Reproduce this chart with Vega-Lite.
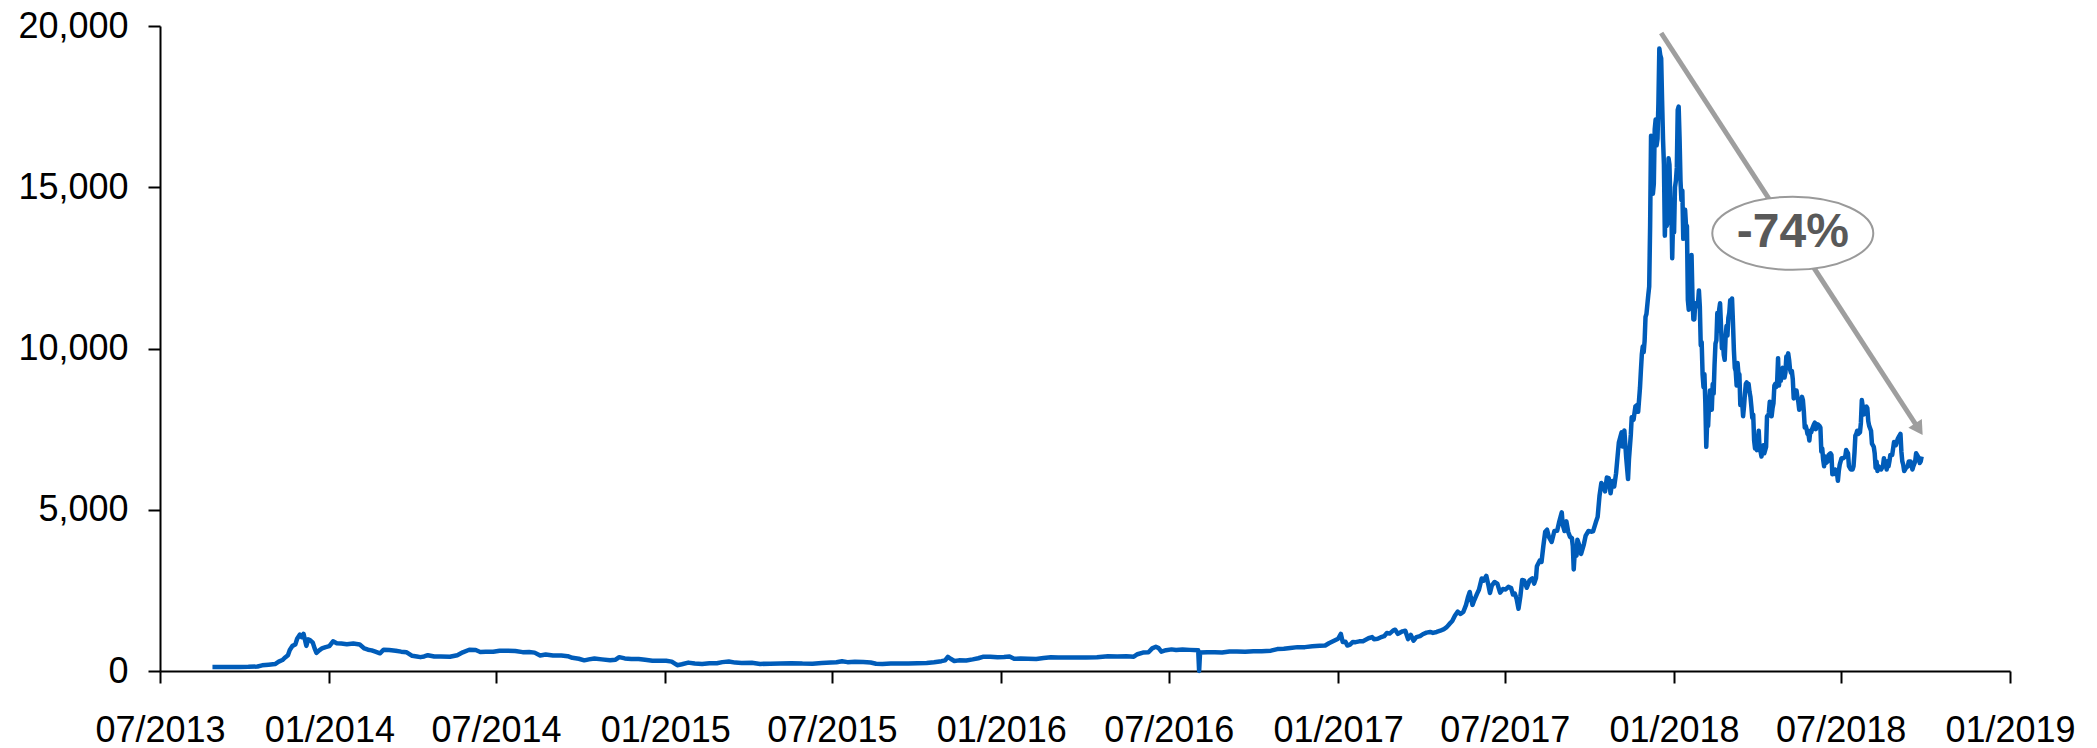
{
  "$schema": "https://vega.github.io/schema/vega-lite/v6.json",
  "width": 1850,
  "height": 645,
  "autosize": {"type": "none"},
  "padding": {"left": 160, "top": 26, "right": 87, "bottom": 77},
  "background": "white",
  "config": {
    "view": {"stroke": null},
    "font": "Liberation Sans",
    "axis": {"grid": false, "domainColor": "black", "domainWidth": 2, "tickColor": "black", "tickWidth": 2, "tickSize": 12, "labelColor": "black", "labelFontSize": 36, "labelFont": "Liberation Sans", "labelFlush": false, "labelOverlap": false, "labelBound": false}
  },
  "datasets": {
    "btc": [
      {"d":"2013-08-27","v":125},{"d":"2013-09-05","v":125},{"d":"2013-09-15","v":127},{"d":"2013-09-25","v":126},{"d":"2013-10-05","v":128},{"d":"2013-10-15","v":140},{"d":"2013-10-20","v":175},{"d":"2013-10-27","v":195},{"d":"2013-11-03","v":215},{"d":"2013-11-07","v":290},{"d":"2013-11-11","v":340},{"d":"2013-11-14","v":420},{"d":"2013-11-17","v":490},{"d":"2013-11-19","v":650},{"d":"2013-11-22","v":780},{"d":"2013-11-25","v":820},{"d":"2013-11-27","v":1000},{"d":"2013-11-30","v":1130},{"d":"2013-12-02","v":1050},{"d":"2013-12-04","v":1150},{"d":"2013-12-07","v":780},{"d":"2013-12-09","v":980},{"d":"2013-12-11","v":960},{"d":"2013-12-14","v":880},{"d":"2013-12-16","v":700},{"d":"2013-12-18","v":560},{"d":"2013-12-21","v":640},{"d":"2013-12-24","v":700},{"d":"2013-12-28","v":740},
      {"d":"2014-01-01","v":770},{"d":"2014-01-05","v":920},{"d":"2014-01-09","v":860},{"d":"2014-01-14","v":850},{"d":"2014-01-20","v":830},{"d":"2014-01-27","v":850},{"d":"2014-02-03","v":820},{"d":"2014-02-08","v":700},{"d":"2014-02-12","v":660},{"d":"2014-02-16","v":640},{"d":"2014-02-20","v":600},{"d":"2014-02-25","v":550},{"d":"2014-03-01","v":660},{"d":"2014-03-07","v":650},{"d":"2014-03-14","v":630},{"d":"2014-03-20","v":600},{"d":"2014-03-26","v":580},{"d":"2014-04-01","v":470},{"d":"2014-04-06","v":450},{"d":"2014-04-10","v":430},{"d":"2014-04-14","v":450},{"d":"2014-04-18","v":490},{"d":"2014-04-25","v":450},{"d":"2014-05-02","v":450},{"d":"2014-05-12","v":440},{"d":"2014-05-20","v":490},{"d":"2014-05-26","v":580},{"d":"2014-06-02","v":660},{"d":"2014-06-09","v":650},{"d":"2014-06-14","v":590},{"d":"2014-06-20","v":600},{"d":"2014-06-28","v":600},{"d":"2014-07-05","v":630},{"d":"2014-07-14","v":630},{"d":"2014-07-22","v":620},{"d":"2014-07-30","v":585},{"d":"2014-08-06","v":590},{"d":"2014-08-12","v":570},{"d":"2014-08-18","v":480},{"d":"2014-08-24","v":510},{"d":"2014-09-01","v":480},{"d":"2014-09-10","v":480},{"d":"2014-09-17","v":460},{"d":"2014-09-22","v":410},{"d":"2014-09-29","v":380},{"d":"2014-10-05","v":330},{"d":"2014-10-10","v":360},{"d":"2014-10-16","v":390},{"d":"2014-10-24","v":360},{"d":"2014-11-02","v":330},{"d":"2014-11-08","v":350},{"d":"2014-11-12","v":430},{"d":"2014-11-18","v":390},{"d":"2014-11-25","v":375},{"d":"2014-12-03","v":375},{"d":"2014-12-10","v":350},{"d":"2014-12-18","v":320},{"d":"2014-12-25","v":320},
      {"d":"2015-01-02","v":315},{"d":"2015-01-08","v":290},{"d":"2015-01-14","v":180},{"d":"2015-01-19","v":210},{"d":"2015-01-26","v":260},{"d":"2015-02-02","v":230},{"d":"2015-02-10","v":220},{"d":"2015-02-18","v":240},{"d":"2015-02-26","v":240},{"d":"2015-03-04","v":275},{"d":"2015-03-11","v":295},{"d":"2015-03-18","v":260},{"d":"2015-03-25","v":250},{"d":"2015-04-05","v":255},{"d":"2015-04-14","v":220},{"d":"2015-04-25","v":225},{"d":"2015-05-06","v":235},{"d":"2015-05-18","v":240},{"d":"2015-05-30","v":230},{"d":"2015-06-10","v":228},{"d":"2015-06-20","v":245},{"d":"2015-06-30","v":260},{"d":"2015-07-06","v":270},{"d":"2015-07-12","v":300},{"d":"2015-07-18","v":275},{"d":"2015-07-26","v":290},{"d":"2015-08-04","v":280},{"d":"2015-08-12","v":265},{"d":"2015-08-18","v":225},{"d":"2015-08-25","v":215},{"d":"2015-09-03","v":230},{"d":"2015-09-12","v":235},{"d":"2015-09-22","v":230},{"d":"2015-10-02","v":240},{"d":"2015-10-12","v":245},{"d":"2015-10-20","v":270},{"d":"2015-10-28","v":305},{"d":"2015-11-01","v":330},{"d":"2015-11-04","v":440},{"d":"2015-11-07","v":380},{"d":"2015-11-11","v":310},{"d":"2015-11-16","v":330},{"d":"2015-11-24","v":325},{"d":"2015-12-01","v":360},{"d":"2015-12-07","v":395},{"d":"2015-12-12","v":440},{"d":"2015-12-20","v":445},{"d":"2015-12-28","v":425},
      {"d":"2016-01-04","v":435},{"d":"2016-01-10","v":450},{"d":"2016-01-15","v":380},{"d":"2016-01-22","v":385},{"d":"2016-01-30","v":380},{"d":"2016-02-08","v":375},{"d":"2016-02-16","v":405},{"d":"2016-02-24","v":425},{"d":"2016-03-03","v":420},{"d":"2016-03-12","v":415},{"d":"2016-03-22","v":415},{"d":"2016-04-02","v":420},{"d":"2016-04-14","v":425},{"d":"2016-04-26","v":460},{"d":"2016-05-06","v":450},{"d":"2016-05-16","v":455},{"d":"2016-05-24","v":445},{"d":"2016-05-28","v":520},{"d":"2016-06-03","v":570},{"d":"2016-06-09","v":580},{"d":"2016-06-13","v":700},{"d":"2016-06-17","v":750},{"d":"2016-06-20","v":710},{"d":"2016-06-23","v":600},{"d":"2016-06-28","v":645},{"d":"2016-07-04","v":670},{"d":"2016-07-09","v":650},{"d":"2016-07-16","v":665},{"d":"2016-07-24","v":655},{"d":"2016-08-02","v":640},{"d":"2016-08-03","v":0},{"d":"2016-08-04","v":570},{"d":"2016-08-12","v":585},{"d":"2016-08-20","v":580},{"d":"2016-08-28","v":575},{"d":"2016-09-05","v":605},{"d":"2016-09-13","v":608},{"d":"2016-09-22","v":595},{"d":"2016-10-01","v":615},{"d":"2016-10-10","v":615},{"d":"2016-10-20","v":630},{"d":"2016-10-27","v":680},{"d":"2016-11-03","v":690},{"d":"2016-11-10","v":715},{"d":"2016-11-18","v":740},{"d":"2016-11-26","v":740},{"d":"2016-12-04","v":765},{"d":"2016-12-12","v":780},{"d":"2016-12-18","v":790},{"d":"2016-12-22","v":860},{"d":"2016-12-27","v":930},
      {"d":"2017-01-01","v":1000},{"d":"2017-01-04","v":1150},{"d":"2017-01-06","v":900},{"d":"2017-01-09","v":905},{"d":"2017-01-11","v":790},{"d":"2017-01-14","v":820},{"d":"2017-01-17","v":900},{"d":"2017-01-20","v":895},{"d":"2017-01-24","v":920},{"d":"2017-01-28","v":925},{"d":"2017-01-31","v":970},{"d":"2017-02-03","v":1015},{"d":"2017-02-07","v":1050},{"d":"2017-02-09","v":985},{"d":"2017-02-13","v":1000},{"d":"2017-02-16","v":1040},{"d":"2017-02-20","v":1080},{"d":"2017-02-23","v":1180},{"d":"2017-02-26","v":1160},{"d":"2017-03-02","v":1260},{"d":"2017-03-04","v":1280},{"d":"2017-03-07","v":1150},{"d":"2017-03-10","v":1200},{"d":"2017-03-12","v":1230},{"d":"2017-03-15","v":1250},{"d":"2017-03-18","v":990},{"d":"2017-03-21","v":1120},{"d":"2017-03-24","v":940},{"d":"2017-03-27","v":1050},{"d":"2017-03-31","v":1080},{"d":"2017-04-03","v":1140},{"d":"2017-04-07","v":1190},{"d":"2017-04-11","v":1210},{"d":"2017-04-14","v":1180},{"d":"2017-04-18","v":1210},{"d":"2017-04-22","v":1250},{"d":"2017-04-26","v":1300},{"d":"2017-04-29","v":1360},{"d":"2017-05-02","v":1460},{"d":"2017-05-05","v":1550},{"d":"2017-05-08","v":1720},{"d":"2017-05-11","v":1840},{"d":"2017-05-14","v":1770},{"d":"2017-05-17","v":1830},{"d":"2017-05-20","v":2050},{"d":"2017-05-22","v":2280},{"d":"2017-05-24","v":2450},{"d":"2017-05-25","v":2300},{"d":"2017-05-27","v":2050},{"d":"2017-05-29","v":2200},{"d":"2017-06-01","v":2400},{"d":"2017-06-03","v":2520},{"d":"2017-06-06","v":2870},{"d":"2017-06-08","v":2800},{"d":"2017-06-11","v":2950},{"d":"2017-06-13","v":2700},{"d":"2017-06-15","v":2420},{"d":"2017-06-17","v":2650},{"d":"2017-06-20","v":2760},{"d":"2017-06-23","v":2710},{"d":"2017-06-26","v":2430},{"d":"2017-06-29","v":2540},{"d":"2017-07-02","v":2530},{"d":"2017-07-05","v":2610},{"d":"2017-07-08","v":2570},{"d":"2017-07-10","v":2370},{"d":"2017-07-12","v":2400},{"d":"2017-07-14","v":2230},{"d":"2017-07-16","v":1930},{"d":"2017-07-18","v":2310},{"d":"2017-07-20","v":2820},{"d":"2017-07-22","v":2810},{"d":"2017-07-25","v":2580},{"d":"2017-07-28","v":2810},{"d":"2017-07-31","v":2870},{"d":"2017-08-02","v":2710},{"d":"2017-08-04","v":2880},{"d":"2017-08-05","v":3250},{"d":"2017-08-08","v":3420},{"d":"2017-08-10","v":3380},{"d":"2017-08-12","v":3880},{"d":"2017-08-14","v":4320},{"d":"2017-08-16","v":4380},{"d":"2017-08-18","v":4160},{"d":"2017-08-21","v":4000},{"d":"2017-08-24","v":4340},{"d":"2017-08-27","v":4350},{"d":"2017-08-29","v":4600},{"d":"2017-09-01","v":4920},{"d":"2017-09-02","v":4540},{"d":"2017-09-04","v":4340},{"d":"2017-09-06","v":4640},{"d":"2017-09-08","v":4310},{"d":"2017-09-10","v":4160},{"d":"2017-09-12","v":4120},{"d":"2017-09-13","v":3880},{"d":"2017-09-14","v":3150},{"d":"2017-09-15","v":3640},{"d":"2017-09-17","v":3580},{"d":"2017-09-18","v":4070},{"d":"2017-09-20","v":3900},{"d":"2017-09-22","v":3630},{"d":"2017-09-25","v":3930},{"d":"2017-09-27","v":4200},{"d":"2017-09-30","v":4340},{"d":"2017-10-03","v":4320},{"d":"2017-10-05","v":4330},{"d":"2017-10-08","v":4610},{"d":"2017-10-10","v":4780},{"d":"2017-10-12","v":5430},{"d":"2017-10-14","v":5830},{"d":"2017-10-16","v":5750},{"d":"2017-10-18","v":5570},{"d":"2017-10-20","v":6000},{"d":"2017-10-22","v":5980},{"d":"2017-10-24","v":5510},{"d":"2017-10-26","v":5890},{"d":"2017-10-28","v":5720},{"d":"2017-10-30","v":6130},{"d":"2017-11-01","v":6770},{"d":"2017-11-02","v":7080},{"d":"2017-11-05","v":7400},{"d":"2017-11-06","v":6960},{"d":"2017-11-08","v":7460},{"d":"2017-11-10","v":6620},{"d":"2017-11-12","v":5950},{"d":"2017-11-13","v":6560},{"d":"2017-11-15","v":7320},{"d":"2017-11-16","v":7870},{"d":"2017-11-18","v":7790},{"d":"2017-11-20","v":8200},{"d":"2017-11-22","v":8250},{"d":"2017-11-23","v":8040},{"d":"2017-11-25","v":8790},{"d":"2017-11-26","v":9330},{"d":"2017-11-27","v":9820},{"d":"2017-11-28","v":10060},{"d":"2017-11-29","v":9890},{"d":"2017-11-30","v":10230},{"d":"2017-12-01","v":10980},{"d":"2017-12-02","v":11070},{"d":"2017-12-04","v":11660},{"d":"2017-12-05","v":11920},{"d":"2017-12-06","v":13800},{"d":"2017-12-07","v":16600},{"d":"2017-12-08","v":16000},{"d":"2017-12-09","v":14800},{"d":"2017-12-10","v":15100},{"d":"2017-12-11","v":16800},{"d":"2017-12-12","v":17100},{"d":"2017-12-13","v":16300},{"d":"2017-12-14","v":16500},{"d":"2017-12-15","v":17600},{"d":"2017-12-16","v":19300},{"d":"2017-12-17","v":19100},{"d":"2017-12-18","v":19000},{"d":"2017-12-19","v":17700},{"d":"2017-12-20","v":16500},{"d":"2017-12-21","v":15700},{"d":"2017-12-22","v":13500},{"d":"2017-12-23","v":14700},{"d":"2017-12-24","v":13800},{"d":"2017-12-25","v":13900},{"d":"2017-12-26","v":15900},{"d":"2017-12-27","v":15700},{"d":"2017-12-28","v":14500},{"d":"2017-12-29","v":14500},{"d":"2017-12-30","v":12800},{"d":"2017-12-31","v":14100},
      {"d":"2018-01-01","v":13600},{"d":"2018-01-02","v":15000},{"d":"2018-01-03","v":15200},{"d":"2018-01-04","v":15600},{"d":"2018-01-05","v":17400},{"d":"2018-01-06","v":17500},{"d":"2018-01-07","v":16500},{"d":"2018-01-08","v":15200},{"d":"2018-01-09","v":14600},{"d":"2018-01-10","v":14900},{"d":"2018-01-11","v":13400},{"d":"2018-01-12","v":13900},{"d":"2018-01-13","v":14300},{"d":"2018-01-14","v":13800},{"d":"2018-01-15","v":13800},{"d":"2018-01-16","v":11500},{"d":"2018-01-17","v":11200},{"d":"2018-01-18","v":11400},{"d":"2018-01-19","v":11600},{"d":"2018-01-20","v":12900},{"d":"2018-01-21","v":11600},{"d":"2018-01-22","v":10900},{"d":"2018-01-23","v":10900},{"d":"2018-01-24","v":11400},{"d":"2018-01-25","v":11300},{"d":"2018-01-27","v":11400},{"d":"2018-01-28","v":11800},{"d":"2018-01-29","v":11300},{"d":"2018-01-30","v":10100},{"d":"2018-01-31","v":10200},{"d":"2018-02-01","v":9200},{"d":"2018-02-02","v":8800},{"d":"2018-02-03","v":9200},{"d":"2018-02-04","v":8300},{"d":"2018-02-05","v":6950},{"d":"2018-02-06","v":7750},{"d":"2018-02-07","v":7600},{"d":"2018-02-08","v":8250},{"d":"2018-02-09","v":8700},{"d":"2018-02-10","v":8600},{"d":"2018-02-11","v":8100},{"d":"2018-02-12","v":8900},{"d":"2018-02-13","v":8600},{"d":"2018-02-14","v":9500},{"d":"2018-02-15","v":10150},{"d":"2018-02-16","v":10250},{"d":"2018-02-17","v":11100},{"d":"2018-02-18","v":10550},{"d":"2018-02-19","v":11200},{"d":"2018-02-20","v":11400},{"d":"2018-02-21","v":10700},{"d":"2018-02-22","v":10000},{"d":"2018-02-23","v":10300},{"d":"2018-02-24","v":9800},{"d":"2018-02-25","v":9650},{"d":"2018-02-26","v":10350},{"d":"2018-02-27","v":10700},{"d":"2018-02-28","v":10400},{"d":"2018-03-01","v":10950},{"d":"2018-03-02","v":11100},{"d":"2018-03-03","v":11500},{"d":"2018-03-04","v":11500},{"d":"2018-03-05","v":11550},{"d":"2018-03-06","v":10800},{"d":"2018-03-07","v":9950},{"d":"2018-03-08","v":9400},{"d":"2018-03-09","v":9300},{"d":"2018-03-10","v":8850},{"d":"2018-03-11","v":9550},{"d":"2018-03-12","v":9200},{"d":"2018-03-13","v":9200},{"d":"2018-03-14","v":8250},{"d":"2018-03-15","v":8300},{"d":"2018-03-16","v":8350},{"d":"2018-03-17","v":7900},{"d":"2018-03-18","v":8200},{"d":"2018-03-19","v":8600},{"d":"2018-03-20","v":8900},{"d":"2018-03-21","v":8950},{"d":"2018-03-22","v":8700},{"d":"2018-03-23","v":8900},{"d":"2018-03-24","v":8650},{"d":"2018-03-25","v":8500},{"d":"2018-03-26","v":8200},{"d":"2018-03-27","v":7850},{"d":"2018-03-28","v":7950},{"d":"2018-03-29","v":7150},{"d":"2018-03-30","v":6900},{"d":"2018-03-31","v":6950},{"d":"2018-04-01","v":6850},{"d":"2018-04-02","v":7100},{"d":"2018-04-03","v":7450},{"d":"2018-04-04","v":6850},{"d":"2018-04-05","v":6800},{"d":"2018-04-06","v":6650},{"d":"2018-04-07","v":6900},{"d":"2018-04-08","v":7000},{"d":"2018-04-09","v":6750},{"d":"2018-04-10","v":6850},{"d":"2018-04-11","v":6950},{"d":"2018-04-12","v":7900},{"d":"2018-04-13","v":7900},{"d":"2018-04-14","v":8000},{"d":"2018-04-15","v":8350},{"d":"2018-04-16","v":8050},{"d":"2018-04-17","v":7900},{"d":"2018-04-18","v":8150},{"d":"2018-04-19","v":8300},{"d":"2018-04-20","v":8850},{"d":"2018-04-21","v":8900},{"d":"2018-04-22","v":8800},{"d":"2018-04-23","v":8950},{"d":"2018-04-24","v":9700},{"d":"2018-04-25","v":8850},{"d":"2018-04-26","v":9300},{"d":"2018-04-27","v":9000},{"d":"2018-04-28","v":9350},{"d":"2018-04-29","v":9400},{"d":"2018-04-30","v":9250},{"d":"2018-05-01","v":9100},{"d":"2018-05-02","v":9250},{"d":"2018-05-03","v":9750},{"d":"2018-05-04","v":9700},{"d":"2018-05-05","v":9850},{"d":"2018-05-06","v":9650},{"d":"2018-05-07","v":9350},{"d":"2018-05-08","v":9250},{"d":"2018-05-09","v":9300},{"d":"2018-05-10","v":9050},{"d":"2018-05-11","v":8450},{"d":"2018-05-12","v":8500},{"d":"2018-05-13","v":8700},{"d":"2018-05-14","v":8700},{"d":"2018-05-15","v":8500},{"d":"2018-05-16","v":8350},{"d":"2018-05-17","v":8100},{"d":"2018-05-18","v":8250},{"d":"2018-05-20","v":8500},{"d":"2018-05-21","v":8400},{"d":"2018-05-22","v":8050},{"d":"2018-05-23","v":7550},{"d":"2018-05-24","v":7600},{"d":"2018-05-25","v":7500},{"d":"2018-05-26","v":7350},{"d":"2018-05-27","v":7350},{"d":"2018-05-28","v":7150},{"d":"2018-05-29","v":7450},{"d":"2018-05-30","v":7400},{"d":"2018-05-31","v":7500},{"d":"2018-06-02","v":7650},{"d":"2018-06-03","v":7700},{"d":"2018-06-04","v":7500},{"d":"2018-06-06","v":7650},{"d":"2018-06-08","v":7600},{"d":"2018-06-09","v":7550},{"d":"2018-06-10","v":6800},{"d":"2018-06-11","v":6900},{"d":"2018-06-12","v":6550},{"d":"2018-06-13","v":6350},{"d":"2018-06-14","v":6650},{"d":"2018-06-15","v":6450},{"d":"2018-06-17","v":6500},{"d":"2018-06-18","v":6700},{"d":"2018-06-20","v":6750},{"d":"2018-06-21","v":6700},{"d":"2018-06-22","v":6100},{"d":"2018-06-24","v":6150},{"d":"2018-06-25","v":6250},{"d":"2018-06-26","v":6100},{"d":"2018-06-27","v":6150},{"d":"2018-06-28","v":5900},{"d":"2018-06-29","v":6200},{"d":"2018-06-30","v":6400},{"d":"2018-07-02","v":6600},{"d":"2018-07-04","v":6600},{"d":"2018-07-06","v":6650},{"d":"2018-07-07","v":6850},{"d":"2018-07-09","v":6750},{"d":"2018-07-10","v":6350},{"d":"2018-07-12","v":6250},{"d":"2018-07-14","v":6250},{"d":"2018-07-15","v":6350},{"d":"2018-07-16","v":6750},{"d":"2018-07-17","v":7300},{"d":"2018-07-18","v":7350},{"d":"2018-07-19","v":7450},{"d":"2018-07-20","v":7350},{"d":"2018-07-22","v":7400},{"d":"2018-07-23","v":7700},{"d":"2018-07-24","v":8400},{"d":"2018-07-25","v":8200},{"d":"2018-07-26","v":7950},{"d":"2018-07-27","v":8150},{"d":"2018-07-29","v":8200},{"d":"2018-07-30","v":8150},{"d":"2018-07-31","v":7750},{"d":"2018-08-01","v":7600},{"d":"2018-08-03","v":7450},{"d":"2018-08-04","v":7050},{"d":"2018-08-06","v":6950},{"d":"2018-08-07","v":6750},{"d":"2018-08-08","v":6300},{"d":"2018-08-09","v":6500},{"d":"2018-08-10","v":6200},{"d":"2018-08-11","v":6350},{"d":"2018-08-13","v":6300},{"d":"2018-08-14","v":6250},{"d":"2018-08-16","v":6350},{"d":"2018-08-17","v":6600},{"d":"2018-08-18","v":6400},{"d":"2018-08-19","v":6500},{"d":"2018-08-20","v":6250},{"d":"2018-08-21","v":6500},{"d":"2018-08-22","v":6350},{"d":"2018-08-23","v":6500},{"d":"2018-08-24","v":6700},{"d":"2018-08-26","v":6700},{"d":"2018-08-27","v":6900},{"d":"2018-08-28","v":7100},{"d":"2018-08-30","v":7000},{"d":"2018-09-01","v":7200},{"d":"2018-09-02","v":7250},{"d":"2018-09-04","v":7350},{"d":"2018-09-05","v":6800},{"d":"2018-09-06","v":6500},{"d":"2018-09-07","v":6400},{"d":"2018-09-08","v":6200},{"d":"2018-09-10","v":6300},{"d":"2018-09-12","v":6350},{"d":"2018-09-13","v":6500},{"d":"2018-09-15","v":6500},{"d":"2018-09-17","v":6250},{"d":"2018-09-18","v":6350},{"d":"2018-09-20","v":6500},{"d":"2018-09-21","v":6750},{"d":"2018-09-22","v":6700},{"d":"2018-09-24","v":6600},{"d":"2018-09-25","v":6450},{"d":"2018-09-26","v":6500},{"d":"2018-09-27","v":6650}
    ],
    "ann": [
      {"d1":"2017-12-18","v1":19783,"d2":"2018-09-24","v2":7496,"ed":"2018-05-10","ev":13572,"label":"-74%"}
    ]
  },
  "layer": [
    {
      "data": {"name": "btc"},
      "mark": {"type": "line", "color": "#005CB9", "strokeWidth": 4.5, "strokeJoin": "round"},
      "encoding": {
        "x": {
          "field": "d", "type": "temporal", "title": null,
          "scale": {"type": "utc", "domain": [{"year": 2013, "month": 7, "date": 1, "utc": true}, {"year": 2019, "month": 1, "date": 1, "utc": true}]},
          "axis": {
            "title": null,
            "values": [
              {"year": 2013, "month": 7, "date": 1, "utc": true},
              {"year": 2014, "month": 1, "date": 1, "utc": true},
              {"year": 2014, "month": 7, "date": 1, "utc": true},
              {"year": 2015, "month": 1, "date": 1, "utc": true},
              {"year": 2015, "month": 7, "date": 1, "utc": true},
              {"year": 2016, "month": 1, "date": 1, "utc": true},
              {"year": 2016, "month": 7, "date": 1, "utc": true},
              {"year": 2017, "month": 1, "date": 1, "utc": true},
              {"year": 2017, "month": 7, "date": 1, "utc": true},
              {"year": 2018, "month": 1, "date": 1, "utc": true},
              {"year": 2018, "month": 7, "date": 1, "utc": true},
              {"year": 2019, "month": 1, "date": 1, "utc": true}
            ],
            "labelExpr": "utcFormat(datum.value, '%m/%Y')",
            "labelPadding": 30
          }
        },
        "y": {
          "field": "v", "type": "quantitative", "title": null,
          "scale": {"domain": [0, 20000], "nice": false},
          "axis": {"title": null, "values": [0, 5000, 10000, 15000, 20000], "format": ",d", "labelPadding": 20}
        }
      }
    },
    {
      "data": {"name": "ann"},
      "mark": {"type": "rule", "color": "#9E9E9E", "strokeWidth": 5},
      "encoding": {
        "x": {"field": "d1", "type": "temporal", "title": null},
        "y": {"field": "v1", "type": "quantitative", "title": null},
        "x2": {"field": "d2"},
        "y2": {"field": "v2"}
      }
    },
    {
      "data": {"name": "ann"},
      "mark": {"type": "point", "shape": "triangle-down", "filled": true, "color": "#9E9E9E", "opacity": 1, "size": 256, "angle": 327},
      "encoding": {
        "x": {"field": "d2", "type": "temporal", "title": null},
        "y": {"field": "v2", "type": "quantitative", "title": null}
      }
    },
    {
      "data": {"name": "ann"},
      "mark": {"type": "point", "shape": "M -1 0 A 1 0.4534 0 1 1 1 0 A 1 0.4534 0 1 1 -1 0 Z", "filled": true, "fill": "white", "stroke": "#9A9A9A", "strokeWidth": 2, "fillOpacity": 1, "strokeOpacity": 1, "opacity": 1, "size": 25921},
      "encoding": {
        "x": {"field": "ed", "type": "temporal", "title": null},
        "y": {"field": "ev", "type": "quantitative", "title": null}
      }
    },
    {
      "data": {"name": "ann"},
      "mark": {"type": "text", "font": "Liberation Sans", "fontWeight": "bold", "fontSize": 48, "color": "#595959", "align": "center", "baseline": "middle"},
      "encoding": {
        "x": {"field": "ed", "type": "temporal", "title": null},
        "y": {"field": "ev", "type": "quantitative", "title": null},
        "text": {"field": "label"}
      }
    }
  ]
}
